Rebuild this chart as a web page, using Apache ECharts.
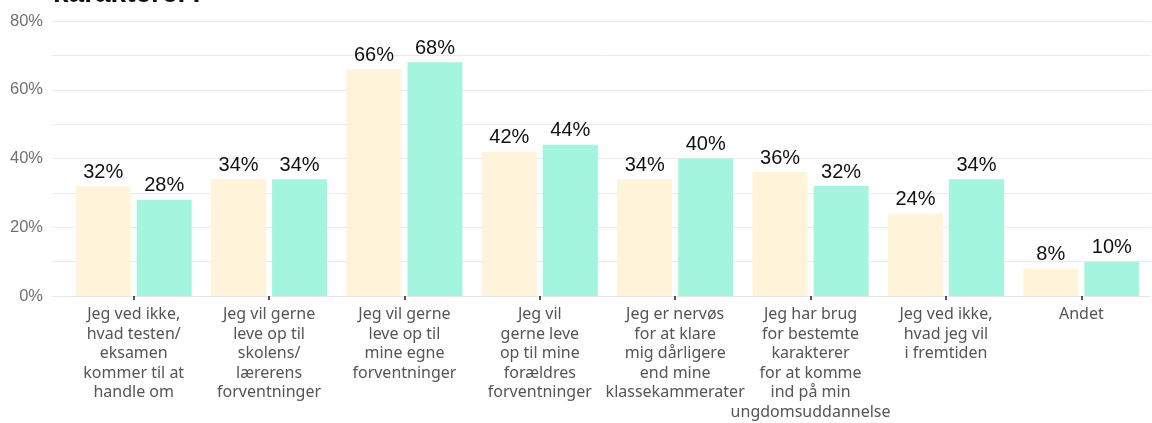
<!DOCTYPE html>
<html><head><meta charset="utf-8">
<script src="https://cdn.jsdelivr.net/npm/echarts@6/dist/echarts.min.js"></script>
<style>html,body{margin:0;padding:0;background:#fff}#c{width:1152px;height:423px}</style>
</head><body><div id="c"></div>
<script>
const titleText = 'karakterer?';
const categories = [
  'Jeg ved ikke,\nhvad testen/\neksamen\nkommer til at\nhandle om',
  'Jeg vil gerne\nleve op til\nskolens/\nlærerens\nforventninger',
  'Jeg vil gerne\nleve op til\nmine egne\nforventninger',
  'Jeg vil\ngerne leve\nop til mine\nforældres\nforventninger',
  'Jeg er nervøs\nfor at klare\nmig dårligere\nend mine\nklassekammerater',
  'Jeg har brug\nfor bestemte\nkarakterer\nfor at komme\nind på min\nungdomsuddannelse',
  'Jeg ved ikke,\nhvad jeg vil\ni fremtiden',
  'Andet'
];
const seriesA = [32, 34, 66, 42, 34, 36, 24, 8];
const seriesB = [28, 34, 68, 44, 40, 32, 34, 10];
const yMin = 0, yMax = 80, yStep = 10;

const chart = echarts.init(document.getElementById('c'), null, {renderer: 'canvas'});
const labelStyle = {show: true, position: 'top', distance: 4, color: '#111', fontSize: 20, fontFamily: 'Liberation Sans, Arial, sans-serif', formatter: p => p.value + '%'};
chart.setOption({
  animation: false,
  backgroundColor: '#fff',
  graphic: [{type: 'text', x: 53, y: -20, style: {text: titleText, font: 'bold 28px "Liberation Sans", Arial, sans-serif', fill: '#111', verticalAlign: 'top'}}],
  grid: [
    {left: 66, right: 3, top: 21, bottom: 127},
    {left: 52, right: 1, top: 21, bottom: 127}
  ],
  xAxis: [
    {type: 'category', gridIndex: 0, data: categories,
     axisLine: {show: true, lineStyle: {color: '#e6e6e6', width: 1}},
     axisTick: {show: true, alignWithLabel: true, length: 4, lineStyle: {color: '#222', width: 1.5}},
     axisLabel: {interval: 0, margin: 9, color: '#555', fontSize: 16, lineHeight: 19.5, fontFamily: 'Noto Sans'}},
    {type: 'value', gridIndex: 1, show: false, min: 0, max: 1}
  ],
  yAxis: [
    {type: 'value', gridIndex: 0, min: yMin, max: yMax, interval: yStep, show: false, splitLine: {show: false}},
    {type: 'value', gridIndex: 1, min: yMin, max: yMax, interval: yStep,
     axisLine: {show: false}, axisTick: {show: false},
     splitLine: {show: true, lineStyle: {color: '#ebebeb', width: 1}},
     axisLabel: {margin: 9, color: '#707070', fontSize: 16.5, fontFamily: 'Liberation Sans, Arial, sans-serif',
       formatter: v => (v % 20 === 0 ? v + '%' : '')}}
  ],
  series: [
    {type: 'bar', xAxisIndex: 0, yAxisIndex: 0, data: seriesA, barGap: '11%', barCategoryGap: '14.3%', itemStyle: {color: '#FFF3D9'}, label: labelStyle, z: 3},
    {type: 'bar', xAxisIndex: 0, yAxisIndex: 0, data: seriesB, itemStyle: {color: '#A3F5DD'}, label: labelStyle, z: 3}
  ]
});
</script></body></html>
